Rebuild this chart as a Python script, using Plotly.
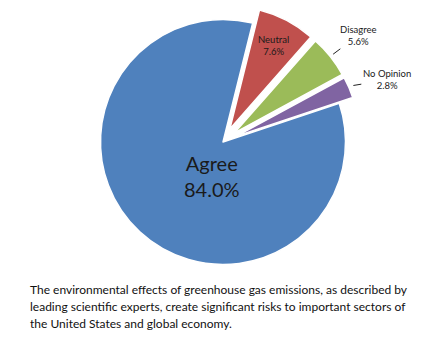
import math
import plotly.graph_objects as go

labels = ["Neutral", "Disagree", "No Opinion", "Agree"]
values = [7.6, 5.6, 2.8, 84.0]
colors = ["#C0504D", "#9BBB59", "#8064A2", "#4F81BD"]
caption_lines = [
    "The environmental effects of greenhouse gas emissions, as described by",
    "leading scientific experts, create significant risks to important sectors of",
    "the United States and global economy.",
]

W, H = 432, 338
PULL = 0.12
ROT = 14
dom_x = [0.1986, 0.8338]
dom_y = [0.174, 0.9858]

# label placement (style): angle offset from slice mid-angle (deg), radius factor, arrow, font size
label_style = [
    dict(dang=0.0, rf=0.89, arrow=False, size=9.5),
    dict(dang=0.3, rf=1.40, arrow=True, tip=1.15, size=9.5),
    dict(dang=2.7, rf=1.43, arrow=True, tip=1.16, size=9.5),
    dict(dang=-24.8, rf=0.29, arrow=False, size=20),
]

fig = go.Figure(go.Pie(
    labels=labels, values=values, sort=False, direction="clockwise", rotation=ROT,
    pull=[PULL if v < 50 else 0 for v in values],
    marker=dict(colors=colors, line=dict(color="white", width=1.5)),
    textinfo="none", showlegend=False, hoverinfo="none",
    domain=dict(x=dom_x, y=dom_y),
))

# pie geometry in pixels (as plotly lays it out)
bw = (dom_x[1] - dom_x[0]) * W
bh = (dom_y[1] - dom_y[0]) * H
cx = (dom_x[0] + dom_x[1]) / 2 * W
cy = (1 - (dom_y[0] + dom_y[1]) / 2) * H
r = min(bw, bh) / 2 / (1 + PULL)

total = sum(values)
start = ROT
for lab, val, st in zip(labels, values, label_style):
    span = val / total * 360
    mid = start + span / 2
    start += span
    text = f"{lab}<br>{val:.1f}%"
    ang = math.radians(mid + st["dang"])
    lx = cx + st["rf"] * r * math.sin(ang)
    ly = cy - st["rf"] * r * math.cos(ang)
    font = dict(size=st["size"], color="#1a1a1a", family="Lato")
    if st["arrow"]:
        ma = math.radians(mid)
        tx = cx + st["tip"] * r * math.sin(ma)
        ty = cy - st["tip"] * r * math.cos(ma)
        fig.add_annotation(text=text, x=tx / W, y=1 - ty / H, xref="paper", yref="paper",
                           ax=lx - tx, ay=ly - ty, axref="pixel", ayref="pixel",
                           showarrow=True, arrowhead=0, arrowwidth=1, arrowcolor="#222",
                           standoff=0, startstandoff=0, font=font, align="center")
    else:
        fig.add_annotation(text=text, x=lx / W, y=1 - ly / H, xref="paper", yref="paper",
                           showarrow=False, font=font, align="center",
                           xanchor="center", yanchor="middle")

for i, line in enumerate(caption_lines):
    fig.add_annotation(text=line, x=28 / W, y=1 - (289 + 17 * i) / H, xref="paper", yref="paper",
                       xanchor="left", yanchor="middle", align="left", showarrow=False,
                       font=dict(size=12, color="#111", family="Lato"))
fig.update_layout(width=W, height=H, margin=dict(l=0, r=0, t=0, b=0),
                  paper_bgcolor="white", plot_bgcolor="white")
fig.write_html("out.html")
